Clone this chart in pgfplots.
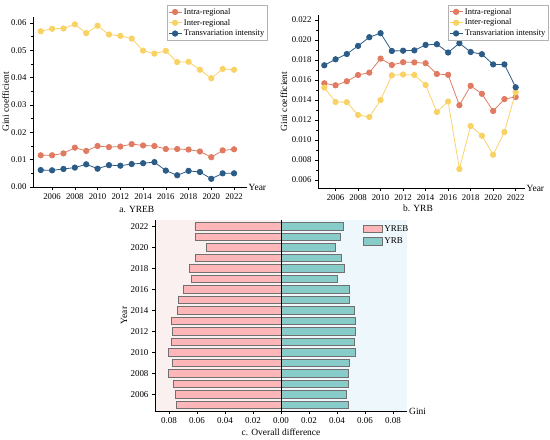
\documentclass[border=0pt]{standalone}
\usepackage{fontspec}
\setmainfont{Liberation Serif}
\usepackage{pgfplots}
\pgfplotsset{compat=1.18}
\definecolor{cintra}{HTML}{E07B62}
\definecolor{cinter}{HTML}{F9D266}
\definecolor{ctrans}{HTML}{2B5B87}
\definecolor{cpink}{HTML}{FFB6B9}
\definecolor{cteal}{HTML}{88CCCA}
\definecolor{cedge}{HTML}{707070}
\definecolor{bgL}{HTML}{FBF0F0}
\definecolor{bgR}{HTML}{EEF7FB}
\pgfplotstableread{
year intra inter trans
2005 0.0116 0.0570 0.0062
2006 0.0116 0.0579 0.0061
2007 0.0123 0.0580 0.0066
2008 0.0144 0.0595 0.0071
2009 0.0132 0.0563 0.0083
2010 0.0150 0.0590 0.0067
2011 0.0146 0.0558 0.0080
2012 0.0148 0.0553 0.0078
2013 0.0157 0.0543 0.0084
2014 0.0152 0.0499 0.0087
2015 0.0150 0.0488 0.0091
2016 0.0139 0.0498 0.0060
2017 0.0139 0.0457 0.0043
2018 0.0137 0.0458 0.0059
2019 0.0130 0.0429 0.0055
2020 0.0109 0.0398 0.0030
2021 0.0134 0.0432 0.0050
2022 0.0138 0.0429 0.0050
}\tabA
\pgfplotstableread{
year intra inter trans
2005 0.01567 0.01524 0.01747
2006 0.01547 0.01380 0.01807
2007 0.01587 0.01378 0.01860
2008 0.01650 0.01250 0.01941
2009 0.01674 0.01230 0.02028
2010 0.01814 0.01400 0.02068
2011 0.01750 0.01647 0.01890
2012 0.01778 0.01655 0.01893
2013 0.01776 0.01650 0.01896
2014 0.01768 0.01550 0.01951
2015 0.01660 0.01280 0.01958
2016 0.01652 0.01385 0.01875
2017 0.01348 0.00710 0.01968
2018 0.01542 0.01140 0.01880
2019 0.01462 0.01043 0.01858
2020 0.01290 0.00853 0.01756
2021 0.01409 0.01080 0.01756
2022 0.01430 0.01478 0.01527
}\tabB
\pgfplotstableread{
year yreb yrb
2005 -0.0746 0.0483
2006 -0.0757 0.0469
2007 -0.0769 0.0478
2008 -0.0805 0.0483
2009 -0.0776 0.0490
2010 -0.0805 0.0528
2011 -0.0781 0.0525
2012 -0.0776 0.0530
2013 -0.0783 0.0530
2014 -0.0738 0.0525
2015 -0.0731 0.0488
2016 -0.0696 0.0490
2017 -0.0639 0.0402
2018 -0.0653 0.0454
2019 -0.0611 0.0433
2020 -0.0535 0.0391
2021 -0.0613 0.0421
2022 -0.0615 0.0443
}\tabC
\pgfplotsset{
  base/.style={
    scale only axis,
    anchor=south west,
    clip mode=individual,
    axis x line*=bottom, axis y line*=left,
    tick align=outside,
    axis line style={line width=0.6pt},
    tick style={line width=0.5pt, black},
    major tick length=3bp, minor tick length=1.8bp,
    ticklabel style={font=\fontsize{8.8}{9.8}\selectfont},
    label style={font=\fontsize{9.5}{10.5}\selectfont},
    /pgf/number format/assume math mode=true,
    scaled ticks=false,
  },
  lin/.style={
    base,
    xtick={2006,2008,...,2022},
    x tick label style={/pgf/number format/1000 sep={}},
    minor y tick num=1,
    xlabel={Year},
    xlabel style={at={(axis description cs:1,0)}, anchor=west, inner sep=1.5bp},
    legend style={draw=gray!60, line width=0.4pt, fill=white, font=\fontsize{8.5}{9.5}\selectfont,
      inner sep=1bp, row sep=-0.5bp, cells={anchor=west}},
    legend cell align=left,
    legend image code/.code={\draw[#1,mark repeat=2,mark phase=2] plot coordinates {(0bp,0bp)(6.5bp,0bp)(13bp,0bp)};},
  },
  pl/.style={line width=0.8pt, mark=*, mark size=2.7bp, color=#1, mark options={fill=#1, draw=#1}},
}
\begin{document}
\begin{tikzpicture}
\useasboundingbox (0bp,0bp) rectangle (550bp,-440bp);
% ---- panel a
\begin{axis}[lin, at={(33bp,-187bp)}, width=214bp, height=170bp,
  xmin=2004.32, xmax=2023.14, ymin=0, ymax=0.0622,
  ytick={0,0.01,...,0.06},
  yticklabel style={/pgf/number format/.cd, fixed, fixed zerofill, precision=2},
  ylabel={Gini coefficient},
  ylabel style={at={(axis description cs:-0.128,0.5)}, anchor=center, rotate=0},
  legend style={at={(axis description cs:0.626,1.07)}, anchor=north west},
]
\addplot[pl=cintra] table[x=year,y=intra]{\tabA};
\addplot[pl=cinter] table[x=year,y=inter]{\tabA};
\addplot[pl=ctrans] table[x=year,y=trans]{\tabA};
\legend{Intra-regional,Inter-regional,Transvariation intensity}
\node[font=\fontsize{9.5}{10.5}\selectfont] at (axis description cs:0.485,-0.135) {a. YREB};
\end{axis}
% ---- panel b
\begin{axis}[lin, at={(318bp,-188bp)}, width=207bp, height=173bp,
  xmin=2004.44, xmax=2022.83, ymin=0.0052, ymax=0.0225,
  ytick={0.006,0.008,...,0.0221},
  yticklabel style={/pgf/number format/.cd, fixed, fixed zerofill, precision=3},
  ylabel={Gini coefficient},
  ylabel style={at={(axis description cs:-0.165,0.5)}, anchor=center, rotate=0},
  legend style={at={(axis description cs:0.628,1.058)}, anchor=north west},
]
\addplot[pl=cintra] table[x=year,y=intra]{\tabB};
\addplot[pl=cinter] table[x=year,y=inter]{\tabB};
\addplot[pl=ctrans] table[x=year,y=trans]{\tabB};
\legend{Intra-regional,Inter-regional,Transvariation intensity}
\node[font=\fontsize{9.5}{10.5}\selectfont] at (axis description cs:0.483,-0.116) {b. YRB};
\end{axis}
% ---- panel c
\begin{axis}[base, at={(155bp,-411bp)}, width=252bp, height=191bp,
  axis on top,
  xmin=-0.09, xmax=0.09, ymin=2004.4, ymax=2022.6,
  xtick={-0.08,-0.06,-0.04,-0.02,0,0.02,0.04,0.06,0.08},
  xticklabels={0.08,0.06,0.04,0.02,0.00,0.02,0.04,0.06,0.08},
  ytick={2006,2008,...,2022},
  y tick label style={/pgf/number format/1000 sep={}},
  ticklabel style={font=\fontsize{9}{10}\selectfont},
  xlabel={Gini},
  xlabel style={at={(axis description cs:1,0)}, anchor=west, inner sep=2bp},
  ylabel={Year},
  ylabel style={at={(axis description cs:-0.123,0.5)}, anchor=center, rotate=0},
  legend style={at={(axis description cs:0.824,0.984)}, anchor=north west, draw=none, fill=none,
    font=\fontsize{9}{10}\selectfont, inner sep=0bp, row sep=1bp, cells={anchor=west}},
  legend image code/.code={\draw[#1] (0bp,-3.8bp) rectangle (19bp,3.8bp);},
]
\fill[bgL] (axis cs:-0.09,2004.4) rectangle (axis cs:0,2022.6);
\fill[bgR] (axis cs:0,2004.4) rectangle (axis cs:0.09,2022.6);
\addplot[xbar, bar width=7.4bp, bar shift=0pt, fill=cpink, draw=cedge, line width=0.6pt] table[x=yreb,y=year]{\tabC};
\addplot[xbar, bar width=7.4bp, bar shift=0pt, fill=cteal, draw=cedge, line width=0.6pt] table[x=yrb,y=year]{\tabC};
\addplot[black, line width=0.7pt, forget plot] coordinates {(0,2004.4) (0,2022.6)};
\legend{YREB,YRB}
\node[font=\fontsize{9.5}{10.5}\selectfont] at (axis description cs:0.5,-0.11) {c. Overall difference};
\end{axis}
\end{tikzpicture}
\end{document}
